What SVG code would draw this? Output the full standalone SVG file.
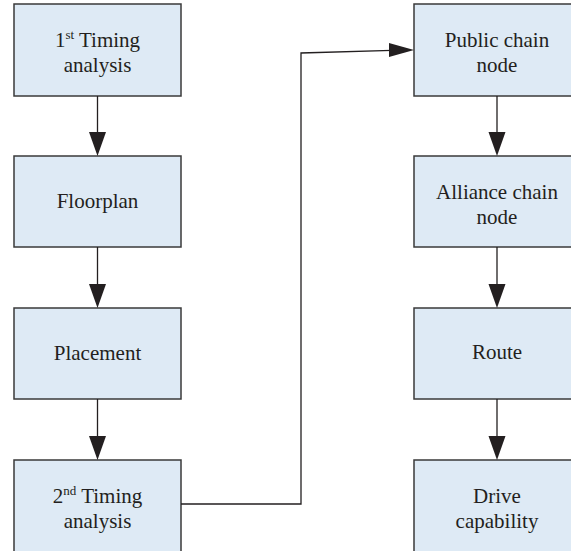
<svg xmlns="http://www.w3.org/2000/svg" width="571" height="551" viewBox="0 0 571 551">
  <style>
    .box { fill: #deeaf5; stroke: #3a3a3a; stroke-width: 1.5; }
    .lbl { font-family: 'Liberation Serif', 'DejaVu Serif', serif; font-size: 21px; fill: #231f20; text-anchor: middle; }
    .sup { font-size: 13px; }
    .wire { fill: none; stroke: #231f20; stroke-width: 1.3; }
    .head { fill: #231f20; }
  </style>
  <rect width="571" height="551" fill="#ffffff"/>

  <!-- left column -->
  <g id="timing1">
    <rect class="box" x="14" y="4" width="167" height="92"/>
    <text class="lbl" x="97.5" y="47">1<tspan class="sup" dy="-8">st</tspan><tspan dy="8"> Timing</tspan></text>
    <text class="lbl" x="97.5" y="72">analysis</text>
  </g>
  <g id="floorplan">
    <rect class="box" x="14" y="156" width="167" height="91"/>
    <text class="lbl" x="97.5" y="208">Floorplan</text>
  </g>
  <g id="placement">
    <rect class="box" x="14" y="308" width="167" height="91"/>
    <text class="lbl" x="97.5" y="360">Placement</text>
  </g>
  <g id="timing2">
    <rect class="box" x="14" y="460" width="167" height="95"/>
    <text class="lbl" x="97.5" y="503">2<tspan class="sup" dy="-8">nd</tspan><tspan dy="8"> Timing</tspan></text>
    <text class="lbl" x="97.5" y="528">analysis</text>
  </g>

  <!-- right column -->
  <g id="public-chain">
    <rect class="box" x="414" y="4" width="167" height="92"/>
    <text class="lbl" x="497" y="47">Public chain</text>
    <text class="lbl" x="497" y="72">node</text>
  </g>
  <g id="alliance-chain">
    <rect class="box" x="414" y="156" width="167" height="91"/>
    <text class="lbl" x="497" y="199">Alliance chain</text>
    <text class="lbl" x="497" y="224">node</text>
  </g>
  <g id="route">
    <rect class="box" x="414" y="308" width="167" height="91"/>
    <text class="lbl" x="497" y="359">Route</text>
  </g>
  <g id="drive">
    <rect class="box" x="414" y="460" width="167" height="95"/>
    <text class="lbl" x="497" y="503">Drive</text>
    <text class="lbl" x="497" y="528">capability</text>
  </g>

  <!-- connectors -->
  <g id="connectors">
    <line class="wire" x1="97.5" y1="96" x2="97.5" y2="134"/>
    <polygon class="head" points="89,132 106,132 97.5,156"/>
    <line class="wire" x1="97.5" y1="247" x2="97.5" y2="286"/>
    <polygon class="head" points="89,284 106,284 97.5,308"/>
    <line class="wire" x1="97.5" y1="399" x2="97.5" y2="438"/>
    <polygon class="head" points="89,436 106,436 97.5,460"/>

    <polyline class="wire" points="181,504 301,504 301,53 392,50.3"/>
    <polygon class="head" points="389,43 389,57 414,50"/>

    <line class="wire" x1="497" y1="96" x2="497" y2="134"/>
    <polygon class="head" points="488.5,132 505.5,132 497,156"/>
    <line class="wire" x1="497" y1="247" x2="497" y2="286"/>
    <polygon class="head" points="488.5,284 505.5,284 497,308"/>
    <line class="wire" x1="497" y1="399" x2="497" y2="438"/>
    <polygon class="head" points="488.5,436 505.5,436 497,460"/>
  </g>
</svg>
